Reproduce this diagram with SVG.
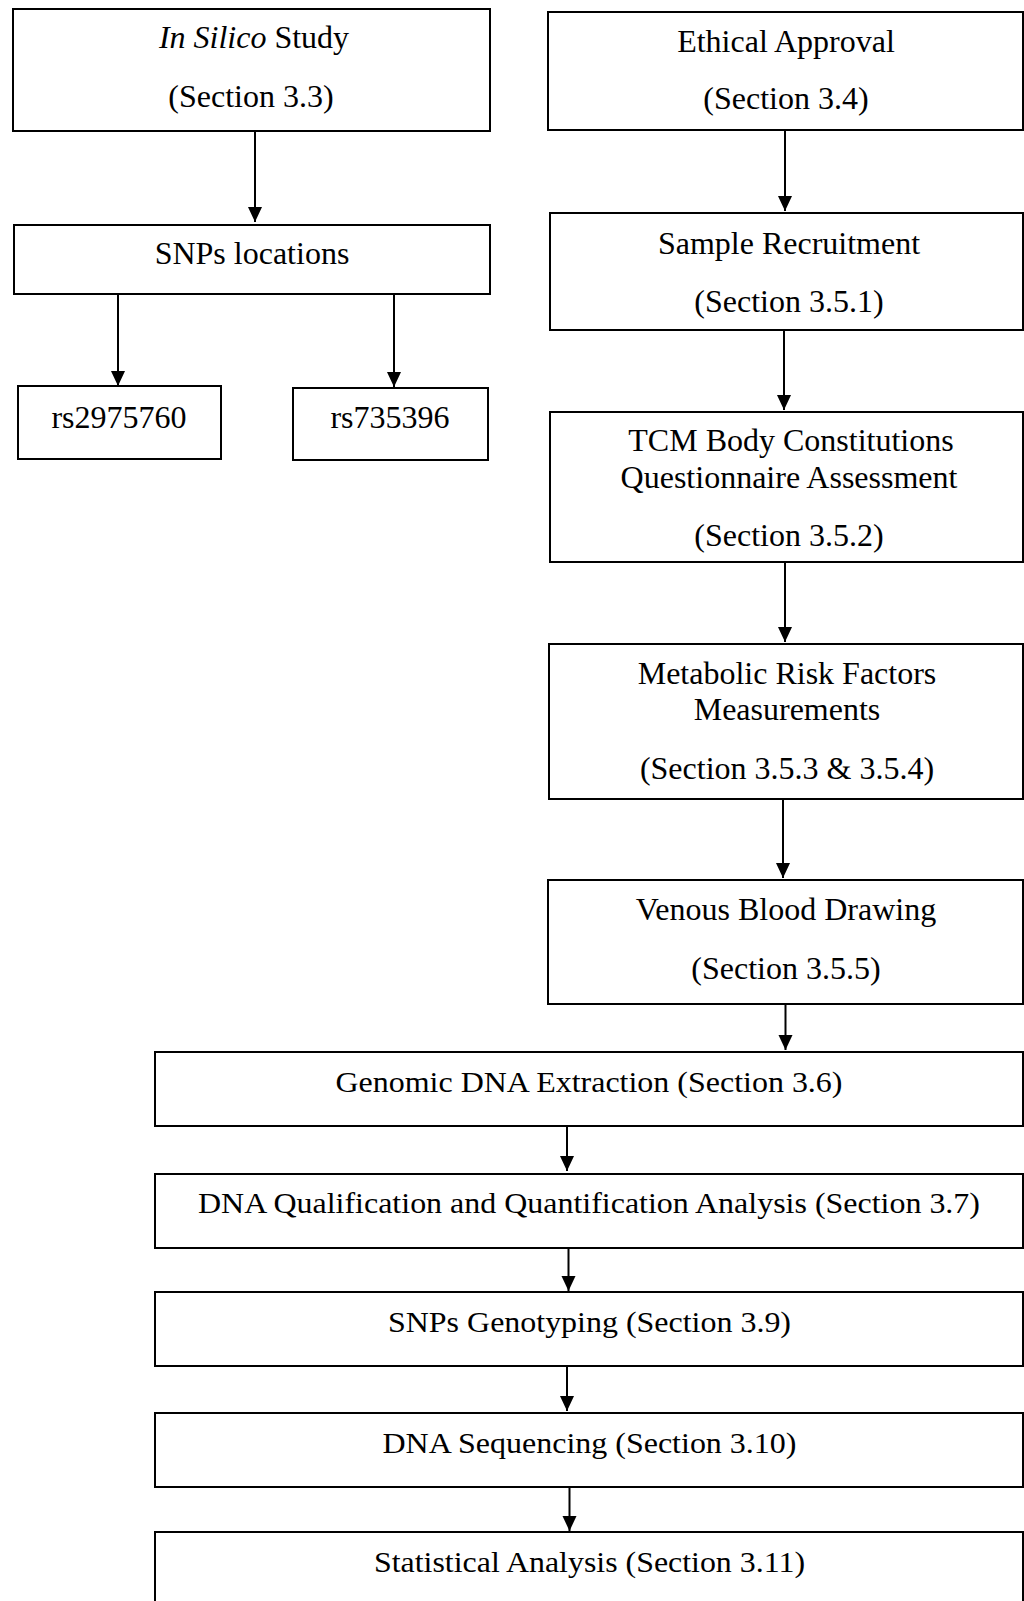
<svg xmlns="http://www.w3.org/2000/svg" width="1024" height="1601" viewBox="0 0 1024 1601">
<defs>
<style>
.box{fill:#fff;stroke:#000;stroke-width:2}
.t{font-family:"Liberation Serif","Times New Roman",serif;font-size:32px;fill:#000;text-anchor:middle}
.b{font-family:"Liberation Serif","Times New Roman",serif;font-size:30px;fill:#000;text-anchor:middle}
.c{stroke:#000;stroke-width:2;fill:none;marker-end:url(#ah)}
</style>
<marker id="ah" markerUnits="userSpaceOnUse" markerWidth="16" markerHeight="16" viewBox="0 0 16 16" refX="15" refY="8" orient="auto">
<path d="M0,1 L15,8 L0,15 Z" fill="#000"/>
</marker>
</defs>
<rect width="1024" height="1601" fill="#fff"/>
<g id="connectors">
<line class="c" x1="255" y1="131" x2="255" y2="222"/>
<line class="c" x1="118" y1="295" x2="118" y2="386"/>
<line class="c" x1="394" y1="295" x2="394" y2="387"/>
<line class="c" x1="785" y1="130" x2="785" y2="211"/>
<line class="c" x1="784" y1="330" x2="784" y2="410"/>
<line class="c" x1="785" y1="562" x2="785" y2="642"/>
<line class="c" x1="783" y1="799" x2="783" y2="878"/>
<line class="c" x1="785.5" y1="1004" x2="785.5" y2="1050"/>
<line class="c" x1="567" y1="1126" x2="567" y2="1171"/>
<line class="c" x1="568.5" y1="1248" x2="568.5" y2="1291"/>
<line class="c" x1="567" y1="1366" x2="567" y2="1411"/>
<line class="c" x1="569.5" y1="1487" x2="569.5" y2="1531"/>
</g>
<g id="silico">
<rect class="box" x="13" y="9" width="477" height="122"/>
<text class="t" x="254" y="48"><tspan font-style="italic">In Silico</tspan> Study</text>
<text class="t" x="251" y="107">(Section 3.3)</text>
</g>
<g id="snploc">
<rect class="box" x="14" y="225" width="476" height="69"/>
<text class="t" x="252" y="264">SNPs locations</text>
</g>
<g id="rs2975760">
<rect class="box" x="18" y="386" width="203" height="73"/>
<text class="t" x="119" y="428">rs2975760</text>
</g>
<g id="rs735396">
<rect class="box" x="293" y="388" width="195" height="72"/>
<text class="t" x="390" y="428">rs735396</text>
</g>
<g id="ethical">
<rect class="box" x="548" y="12" width="475" height="118"/>
<text class="t" x="786" y="52">Ethical Approval</text>
<text class="t" x="786" y="109">(Section 3.4)</text>
</g>
<g id="sample">
<rect class="box" x="550" y="213" width="473" height="117"/>
<text class="t" x="789" y="254">Sample Recruitment</text>
<text class="t" x="789" y="312">(Section 3.5.1)</text>
</g>
<g id="tcm">
<rect class="box" x="550" y="412" width="473" height="150"/>
<text class="t" x="791" y="451">TCM Body Constitutions</text>
<text class="t" x="789" y="488">Questionnaire Assessment</text>
<text class="t" x="789" y="546">(Section 3.5.2)</text>
</g>
<g id="metabolic">
<rect class="box" x="549" y="644" width="474" height="155"/>
<text class="t" x="787" y="684">Metabolic Risk Factors</text>
<text class="t" x="787" y="720">Measurements</text>
<text class="t" x="787" y="779">(Section 3.5.3 &amp; 3.5.4)</text>
</g>
<g id="venous">
<rect class="box" x="548" y="880" width="475" height="124"/>
<text class="t" x="786" y="920">Venous Blood Drawing</text>
<text class="t" x="786" y="979">(Section 3.5.5)</text>
</g>
<g id="genomic">
<rect class="box" x="155" y="1052" width="868" height="74"/>
<text class="b" x="589" y="1092" textLength="507" lengthAdjust="spacingAndGlyphs">Genomic DNA Extraction (Section 3.6)</text>
</g>
<g id="dnaqual">
<rect class="box" x="155" y="1174" width="868" height="74"/>
<text class="b" x="589" y="1213" textLength="782" lengthAdjust="spacingAndGlyphs">DNA Qualification and Quantification Analysis (Section 3.7)</text>
</g>
<g id="snpgeno">
<rect class="box" x="155" y="1292" width="868" height="74"/>
<text class="b" x="589.5" y="1332" textLength="403" lengthAdjust="spacingAndGlyphs">SNPs Genotyping (Section 3.9)</text>
</g>
<g id="dnaseq">
<rect class="box" x="155" y="1413" width="868" height="74"/>
<text class="b" x="589.5" y="1453" textLength="414" lengthAdjust="spacingAndGlyphs">DNA Sequencing (Section 3.10)</text>
</g>
<g id="stat">
<rect class="box" x="155" y="1532" width="868" height="90"/>
<text class="b" x="589.5" y="1572" textLength="431" lengthAdjust="spacingAndGlyphs">Statistical Analysis (Section 3.11)</text>
</g>
</svg>
